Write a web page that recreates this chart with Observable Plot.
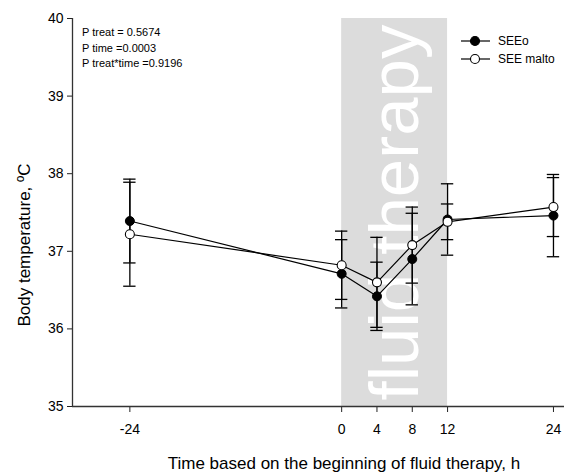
<!DOCTYPE html>
<html>
<head>
<meta charset="utf-8">
<script src="https://cdn.jsdelivr.net/npm/d3@7"></script>
<script src="https://cdn.jsdelivr.net/npm/@observablehq/plot@0.6"></script>
<style>
  body { margin: 0; background: #fff; }
  #chart svg { display: block; font-family: "Liberation Sans", Arial, sans-serif; }
</style>
</head>
<body>
<div id="chart"></div>
<script>
// Sampling times (h relative to the start of fluid therapy)
const hours = [-24, 0, 4, 8, 12, 24];

// Body temperature (°C), mean and SD per group
const seeoMean  = [37.39, 36.71, 36.42, 36.90, 37.41, 37.46];
const seeoSD    = [0.54, 0.44, 0.44, 0.59, 0.46, 0.53];
const maltoMean = [37.22, 36.82, 36.60, 37.08, 37.38, 37.57];
const maltoSD   = [0.67, 0.44, 0.58, 0.49, 0.23, 0.38];

const seriesNames = ["SEEo", "SEE malto"];

// Axis ticks and titles
const xTicks = [-24, 0, 4, 8, 12, 24];
const yTicks = [35, 36, 37, 38, 39, 40];
const xDomain = [-30.5, 25.25];
const yDomain = [35, 40];
const xTitle = "Time based on the beginning of fluid therapy, h";
const yTitle = "Body temperature, ºC";

// Shaded fluid-therapy window
const therapyWindow = {start: 0, end: 12, label: "fluid therapy"};

// Statistics annotation
const statLines = ["P treat = 0.5674", "P time =0.0003", "P treat*time =0.9196"];

const seeo  = hours.map((h, i) => ({h, m: seeoMean[i],  sd: seeoSD[i]}));
const malto = hours.map((h, i) => ({h, m: maltoMean[i], sd: maltoSD[i]}));

const capHalf = 0.7; // half-width of error-bar caps, in hours

function errorMarks(data) {
  return [
    Plot.ruleX(data, {x: "h", y1: d => d.m - d.sd, y2: d => d.m + d.sd, stroke: "#000", strokeWidth: 1.3}),
    Plot.ruleY(data, {y: d => d.m + d.sd, x1: d => d.h - capHalf, x2: d => d.h + capHalf, stroke: "#000", strokeWidth: 1.3}),
    Plot.ruleY(data, {y: d => d.m - d.sd, x1: d => d.h - capHalf, x2: d => d.h + capHalf, stroke: "#000", strokeWidth: 1.3})
  ];
}

const plot = Plot.plot({
  width: 564,
  height: 473,
  marginTop: 18,
  marginBottom: 67,
  marginLeft: 72,
  marginRight: 0,
  style: {fontFamily: "'Liberation Sans', Arial, sans-serif", color: "#000", background: "#fff"},
  x: {domain: xDomain, label: null},
  y: {domain: yDomain, label: null},
  marks: [
    Plot.rect([therapyWindow], {x1: "start", x2: "end", y1: () => yDomain[0], y2: () => yDomain[1], fill: "#dcdcdc"}),
    Plot.text([therapyWindow], {
      x: d => (d.start + d.end) / 2 + 0.1,
      y: () => (yDomain[0] + yDomain[1]) / 2,
      text: "label", rotate: -90, fontSize: 69, fill: "#fff",
      fontFamily: "'Liberation Sans', Arial, sans-serif"
    }),
    Plot.axisX({ticks: xTicks, tickSize: 6, tickPadding: 12, fontSize: 14, tickFormat: d => String(d), label: null, stroke: "#222"}),
    Plot.axisY({ticks: yTicks, tickSize: 5, tickPadding: 4, fontSize: 14, tickFormat: d => String(d), label: null, stroke: "#222"}),
    Plot.ruleX([xDomain[0]], {y1: yDomain[0], y2: yDomain[1], stroke: "#333", strokeWidth: 1.3}),
    Plot.ruleY([yDomain[0]], {stroke: "#333", strokeWidth: 1.3}),
    Plot.line(seeo,  {x: "h", y: "m", stroke: "#000", strokeWidth: 1.2}),
    Plot.line(malto, {x: "h", y: "m", stroke: "#000", strokeWidth: 1.2}),
    ...errorMarks(seeo),
    ...errorMarks(malto),
    Plot.dot(seeo,  {x: "h", y: "m", r: 4.5, fill: "#000", stroke: "#000", strokeWidth: 1}),
    Plot.dot(malto, {x: "h", y: "m", r: 4.5, fill: "#fff", stroke: "#000", strokeWidth: 1.1})
  ]
});

document.getElementById("chart").appendChild(plot);

// Axis titles, statistics text and legend
const svg = d3.select(plot);
const font = "'Liberation Sans', Arial, sans-serif";

svg.append("text")
  .attr("transform", "translate(24,245) rotate(-90)")
  .attr("text-anchor", "middle").attr("dominant-baseline", "central")
  .attr("font-family", font).attr("font-size", 17).attr("fill", "#000")
  .text(yTitle);

svg.append("text")
  .attr("x", 344).attr("y", 463)
  .attr("text-anchor", "middle").attr("dominant-baseline", "central")
  .attr("font-family", font).attr("font-size", 17).attr("fill", "#000")
  .text(xTitle);

svg.append("g").attr("text-anchor", "start")
  .selectAll("text").data(statLines).join("text")
  .attr("x", 82).attr("y", (d, i) => 32 + i * 15.5)
  .attr("text-anchor", "start").attr("dominant-baseline", "central")
  .attr("font-family", font).attr("font-size", 11).attr("fill", "#000")
  .text(d => d);

const legend = svg.append("g");
seriesNames.forEach((name, i) => {
  const y = 41 + i * 18;
  legend.append("line").attr("x1", 461).attr("x2", 490).attr("y1", y).attr("y2", y)
    .attr("stroke", "#000").attr("stroke-width", 1.2);
  legend.append("circle").attr("cx", 475).attr("cy", y).attr("r", 4.5)
    .attr("fill", i === 0 ? "#000" : "#fff").attr("stroke", "#000").attr("stroke-width", 1.1);
  legend.append("text").attr("x", 498).attr("y", y)
    .attr("text-anchor", "start").attr("dominant-baseline", "central")
    .attr("font-family", font).attr("font-size", 12).attr("fill", "#000")
    .text(name);
});
</script>
</body>
</html>
